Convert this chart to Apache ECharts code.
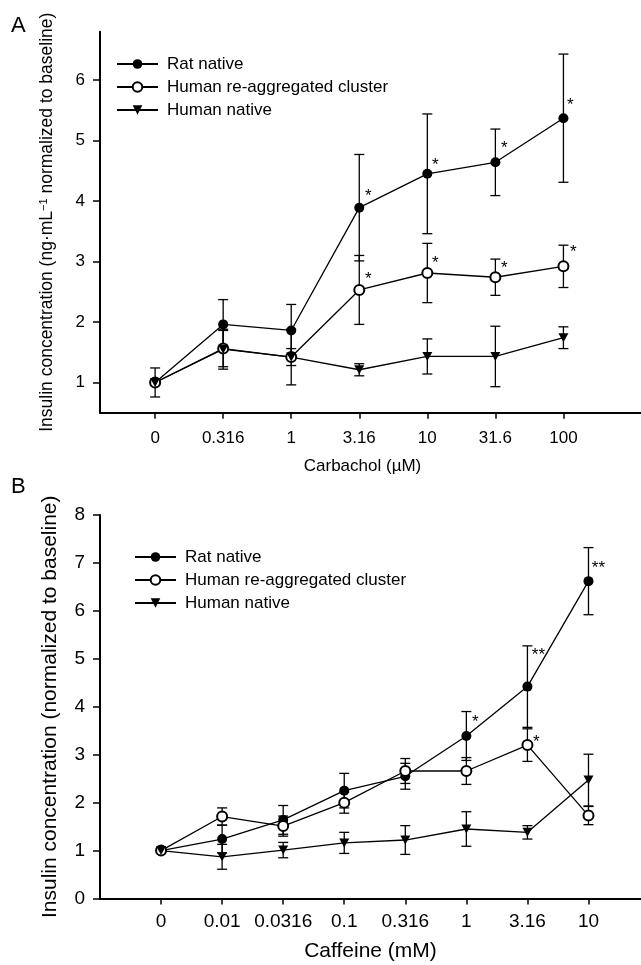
<!DOCTYPE html>
<html><head><meta charset="utf-8">
<script src="https://cdn.jsdelivr.net/npm/echarts@6/dist/echarts.min.js"></script>
<style>html,body{margin:0;padding:0;background:#fff}#c{width:641px;height:965px}</style>
</head><body><div id="c"></div>
<script>
// ---------- Panel A data (Carbachol) ----------
const catsA = ['0','0.316','1','3.16','10','31.6','100'];
const ratA = [1.00, 1.96, 1.86, 3.89, 4.45, 4.64, 5.37];
const ratAErr = [0.24, 0.41, 0.43, 0.88, 0.99, 0.55, 1.06];
const reaggA = [1.00, 1.56, 1.42, 2.53, 2.81, 2.74, 2.92];
const reaggAErr = [0.04, 0.30, 0.14, 0.57, 0.49, 0.30, 0.35];
const natA = [1.00, 1.55, 1.42, 1.21, 1.43, 1.43, 1.74];
const natAErr = [0.04, 0.33, 0.46, 0.10, 0.29, 0.50, 0.18];
const sigRatA = ['', '', '', '*', '*', '*', '*'];
const sigReaggA = ['', '', '', '*', '*', '*', '*'];
const yTicksA = [1, 2, 3, 4, 5, 6];

// ---------- Panel B data (Caffeine) ----------
const catsB = ['0','0.01','0.0316','0.1','0.316','1','3.16','10'];
const ratB = [1.00, 1.24, 1.64, 2.25, 2.55, 3.39, 4.42, 6.62];
const ratBErr = [0.04, 0.29, 0.30, 0.36, 0.27, 0.51, 0.85, 0.70];
const reaggB = [1.00, 1.71, 1.51, 2.00, 2.66, 2.66, 3.20, 1.73];
const reaggBErr = [0.04, 0.18, 0.21, 0.22, 0.26, 0.28, 0.34, 0.19];
const natB = [1.00, 0.87, 1.01, 1.16, 1.22, 1.45, 1.38, 2.47];
const natBErr = [0.04, 0.26, 0.16, 0.22, 0.30, 0.36, 0.14, 0.54];
const sigRatB = ['', '', '', '', '', '*', '**', '**'];
const sigReaggB = ['', '', '', '', '', '', '*', ''];

const seriesNames = ['Rat native', 'Human re-aggregated cluster', 'Human native'];

// ---------- styling ----------
const FONT = '"Liberation Sans", Arial, sans-serif';
const TRI_DOWN = 'path://M0,0L10,0L5,9Z';
// visual offsets (px) of significance marks relative to the point
const offRatA = {3:[9,-16], 4:[8,-14], 5:[9,-19], 6:[7,-18]};
const offReaggA = {3:[9,-16], 4:[8,-15], 5:[9,-14], 6:[10,-19]};
const offRatB = {5:[9,-19], 6:[11,-36], 7:[10,-18]};
const offReaggB = {6:[9,-8]};

const chart = echarts.init(document.getElementById('c'));

function xAx(gi, min, max, cats, name, nameGap, fs, nameFs, margin, namePad) {
  const idx = cats.map((_, i) => i);
  return {
    type: 'value', gridIndex: gi, min: min, max: max,
    name: name, nameLocation: 'middle', nameGap: nameGap,
    nameTextStyle: {fontSize: nameFs, color: '#000', fontFamily: FONT, padding: namePad},
    axisLine: {show: true, onZero: false, lineStyle: {color: '#000', width: 2}},
    axisTick: {show: true, customValues: idx, length: 6, lineStyle: {color: '#000', width: 1.5}},
    axisLabel: {customValues: idx, formatter: v => cats[Math.round(v)], fontSize: fs, color: '#000', fontFamily: FONT, margin: margin},
    splitLine: {show: false}
  };
}

function errSeries(gi, vals, errs) {
  return {
    type: 'custom', xAxisIndex: gi, yAxisIndex: gi, z: 2, silent: true,
    encode: {x: 0, y: 1},
    data: vals.map((v, i) => [i, v, errs[i]]),
    renderItem: (params, api) => {
      const x = api.value(0), m = api.value(1), e = api.value(2);
      const t = api.coord([x, m + e]), b = api.coord([x, m - e]);
      const hw = 5;
      const st = {stroke: '#000', lineWidth: 1.3};
      return {type: 'group', children: [
        {type: 'line', shape: {x1: t[0], y1: t[1], x2: b[0], y2: b[1]}, style: st},
        {type: 'line', shape: {x1: t[0] - hw, y1: t[1], x2: t[0] + hw, y2: t[1]}, style: st},
        {type: 'line', shape: {x1: b[0] - hw, y1: b[1], x2: b[0] + hw, y2: b[1]}, style: st}
      ]};
    }
  };
}

function lineSeries(name, gi, vals, symbol, size, empty) {
  return {
    type: 'line', name: name, xAxisIndex: gi, yAxisIndex: gi, z: 5,
    data: vals.map((v, i) => [i, v]),
    symbol: symbol, symbolSize: size, showSymbol: true,
    lineStyle: {color: '#000', width: 1.3},
    itemStyle: {color: '#000', borderColor: '#000', borderWidth: empty ? 1.3 : 0},
    emphasis: {disabled: true}
  };
}

function sigSeries(gi, vals, sig, offs) {
  const data = [];
  vals.forEach((v, i) => { if (sig[i]) data.push([i, v, i]); });
  return {
    type: 'custom', xAxisIndex: gi, yAxisIndex: gi, z: 6, silent: true,
    encode: {x: 0, y: 1},
    data: data,
    renderItem: (params, api) => {
      const i = api.value(2);
      const p = api.coord([api.value(0), api.value(1)]);
      const o = offs[i] || [9, -16];
      return {type: 'text', x: p[0] + o[0], y: p[1] + o[1] + 5,
        style: {text: sig[i], fill: '#000', font: '17px ' + FONT, align: 'center', verticalAlign: 'middle'}};
    }
  };
}

const legendCommon = {
  orient: 'vertical', itemWidth: 41, itemHeight: 12, itemGap: 5, padding: 0,
  data: seriesNames, selectedMode: false,
  textStyle: {fontSize: 17, color: '#000', fontFamily: FONT, lineHeight: 18, padding: [0, 0, 0, 4]}
};

const option = {
  animation: false,
  backgroundColor: '#fff',
  textStyle: {fontFamily: FONT, color: '#000'},
  grid: [
    {left: 100, right: 0, top: 31.7, height: 381},
    {left: 100, right: 0, top: 515, height: 383.5}
  ],
  xAxis: [
    xAx(0, -0.81, 7.14, catsA, 'Carbachol (µM)', 45, 17, 17, 17, [0, 16, 0, 0]),
    xAx(1, -1, 7.86, catsB, 'Caffeine (mM)', 42, 19, 21, 14, 0)
  ],
  yAxis: [
    {
      type: 'value', gridIndex: 0, min: 0.5, max: 6.8,
      name: 'Insulin concentration (ng·mL{sup|−1} normalized to baseline)',
      nameLocation: 'middle', nameGap: 44,
      nameTextStyle: {fontSize: 17.5, color: '#000', fontFamily: FONT,
        rich: {sup: {fontSize: 11, verticalAlign: 'top', color: '#000', fontFamily: FONT}}},
      axisLine: {show: true, onZero: false, lineStyle: {color: '#000', width: 2}},
      axisTick: {show: true, customValues: yTicksA, length: 7, lineStyle: {color: '#000', width: 1.5}},
      axisLabel: {customValues: yTicksA, fontSize: 17, color: '#000', fontFamily: FONT, margin: 15},
      splitLine: {show: false}
    },
    {
      type: 'value', gridIndex: 1, min: 0, max: 8, interval: 1,
      name: 'Insulin concentration (normalized to baseline)',
      nameLocation: 'middle', nameGap: 39,
      nameTextStyle: {fontSize: 21, color: '#000', fontFamily: FONT},
      axisLine: {show: true, onZero: false, lineStyle: {color: '#000', width: 2}},
      axisTick: {show: true, length: 7, lineStyle: {color: '#000', width: 1.5}},
      axisLabel: {fontSize: 19, color: '#000', fontFamily: FONT, margin: 15},
      splitLine: {show: false}
    }
  ],
  legend: [
    Object.assign({left: 116, top: 55}, legendCommon),
    Object.assign({left: 134, top: 548}, legendCommon)
  ],
  graphic: [
    {type: 'text', left: 11, top: 15, style: {text: 'A', font: '22px ' + FONT, fill: '#000'}},
    {type: 'text', left: 11, top: 476, style: {text: 'B', font: '22px ' + FONT, fill: '#000'}}
  ],
  series: [
    errSeries(0, ratA, ratAErr),
    errSeries(0, reaggA, reaggAErr),
    errSeries(0, natA, natAErr),
    lineSeries(seriesNames[0], 0, ratA, 'circle', 10, false),
    lineSeries(seriesNames[1], 0, reaggA, 'emptyCircle', 10, true),
    lineSeries(seriesNames[2], 0, natA, TRI_DOWN, [10, 9], false),
    sigSeries(0, ratA, sigRatA, offRatA),
    sigSeries(0, reaggA, sigReaggA, offReaggA),
    errSeries(1, ratB, ratBErr),
    errSeries(1, reaggB, reaggBErr),
    errSeries(1, natB, natBErr),
    lineSeries(seriesNames[0], 1, ratB, 'circle', 10, false),
    lineSeries(seriesNames[1], 1, reaggB, 'emptyCircle', 10, true),
    lineSeries(seriesNames[2], 1, natB, TRI_DOWN, [10, 9], false),
    sigSeries(1, ratB, sigRatB, offRatB),
    sigSeries(1, reaggB, sigReaggB, offReaggB)
  ]
};
chart.setOption(option);
</script>
</body></html>
